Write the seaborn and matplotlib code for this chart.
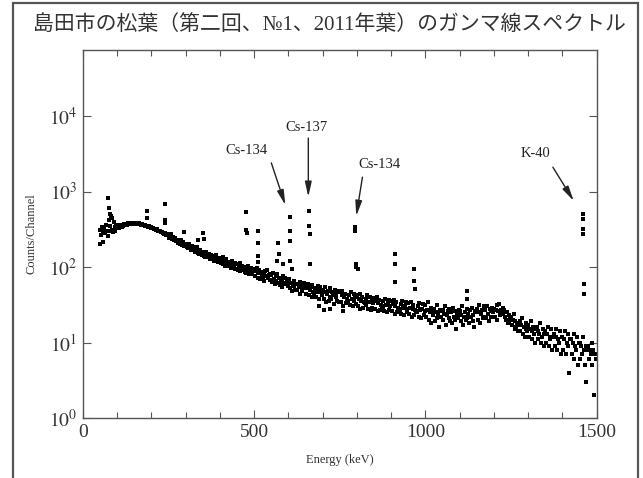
import numpy as np
import pandas as pd
import matplotlib
matplotlib.use('Agg')
import matplotlib.pyplot as plt
from matplotlib.ticker import MultipleLocator, LogLocator, NullLocator, FuncFormatter
from matplotlib.patches import Rectangle
import seaborn as sns

# spectrum, channel width 2.5 keV
counts_low = [  # 50 - 497.5 keV
    310, 265, 340, 290, 215, 330, 280, 360, 300, 255,
    420, 300, 350, 480, 310, 290, 390, 335, 300, 345,
    340, 360, 330, 355, 345, 365, 340, 350, 372, 355,
    365, 375, 360, 380, 372, 368, 385, 370, 378, 382,
    380, 372, 388, 375, 370, 382, 368, 376, 365, 372,
    362, 355, 358, 348, 352, 345, 340, 348, 335, 338,
    332, 325, 330, 318, 322, 312, 308, 315, 302, 298,
    296, 288, 290, 280, 284, 274, 278, 268, 272, 262,
    262, 244, 250, 270, 236, 248, 226, 245, 240, 222,
    228, 208, 220, 200, 216, 226, 198, 212, 190, 204,
    200, 182, 194, 176, 204, 180, 170, 188, 166, 182,
    176, 158, 170, 182, 154, 166, 150, 168, 160, 146,
    158, 140, 152, 136, 160, 144, 134, 150, 128, 146,
    144, 126, 138, 120, 134, 146, 122, 132, 116, 130,
    130, 112, 124, 136, 110, 120, 104, 126, 114, 108,
    118, 102, 112, 96, 120, 106, 100, 114, 94, 108,
    108, 92, 102, 112, 88, 98, 104, 90, 100, 86,
    98, 84, 92, 102, 80, 90, 96, 82, 88, 94,
]
counts_mid = [  # 500 - 997.5 keV
    92, 76, 88, 98, 72, 84, 90, 70, 86, 78,
    70, 84, 66, 88, 76, 92, 72, 78, 68, 82,
    78, 64, 84, 70, 60, 76, 66, 80, 62, 72,
    58, 70, 66, 54, 76, 62, 72, 60, 68, 56,
    64, 70, 52, 62, 48, 58, 66, 56, 50, 60,
    50, 60, 56, 44, 64, 54, 48, 58, 62, 52,
    56, 44, 52, 60, 42, 50, 54, 40, 58, 46,
    44, 52, 40, 50, 56, 46, 38, 54, 48, 42,
    50, 38, 46, 54, 34, 44, 48, 36, 52, 40,
    38, 46, 42, 32, 50, 40, 44, 36, 48, 34,
    46, 34, 42, 48, 30, 40, 44, 33, 38, 36,
    36, 42, 31, 46, 38, 30, 44, 35, 40, 32,
    42, 30, 38, 44, 28, 36, 40, 29, 34, 33,
    31, 38, 42, 28, 34, 40, 27, 36, 29, 33,
    39, 28, 35, 40, 26, 33, 37, 27, 31, 30,
    29, 35, 26, 38, 31, 25, 33, 37, 27, 30,
    36, 26, 32, 37, 24, 30, 34, 25, 29, 28,
    27, 32, 24, 35, 29, 23, 30, 34, 25, 28,
    33, 24, 29, 34, 22, 28, 31, 23, 27, 26,
    25, 30, 22, 33, 27, 21, 28, 32, 23, 26,
]
counts_high = [  # 1000 - 1497.5 keV
    31, 22, 27, 34, 20, 25, 29, 18, 26, 23,
    28, 19, 25, 31, 21, 24, 16, 27, 22, 26,
    27, 20, 24, 30, 17, 23, 26, 21, 28, 19,
    25, 18, 29, 22, 20, 26, 15, 24, 21, 27,
    26, 19, 23, 30, 17, 22, 25, 20, 28, 21,
    24, 18, 27, 22, 29, 19, 23, 16, 25, 26,
    28, 20, 25, 31, 18, 24, 27, 21, 30, 22,
    27, 21, 30, 24, 19, 28, 26, 22, 29, 25,
    28, 22, 27, 31, 20, 26, 32, 23, 27, 24,
    29, 24, 27, 22, 20, 25, 18, 23, 19, 21,
    22, 17, 20, 24, 15, 19, 16, 18, 14, 17,
    19, 14, 17, 21, 13, 16, 12, 18, 15, 14,
    17, 12, 15, 19, 11, 14, 16, 13, 10, 15,
    16, 11, 14, 13, 18, 10, 12, 15, 9, 13,
    14, 10, 13, 16, 9, 12, 11, 15, 8, 12,
    13, 9, 12, 15, 8, 11, 10, 14, 7, 12,
    12, 8, 11, 14, 7, 10, 13, 9, 4, 11,
    11, 7, 10, 13, 6, 9, 8, 12, 5, 10,
    10, 6, 9, 7, 12, 8, 5, 9, 3, 8,
    9, 6, 8, 7, 10, 5, 8, 2, 7, 6,
]

# photopeak channels and stray points standing off the continuum
peak_energy = [50, 73, 75, 78, 84, 186, 186, 239, 239, 241, 294, 336, 351, 352,
               477, 477, 478, 511, 511, 511, 512, 568, 570, 571, 583,
               604, 604, 605, 605, 609, 661, 661, 662, 662,
               690, 705, 720, 760,
               795, 795, 796, 797, 802, 910, 910, 911, 968, 968, 969,
               1120, 1120, 1460, 1460, 1461, 1461, 1462, 1462]
peak_counts = [200, 830, 600, 500, 450, 550, 450, 680, 420, 380, 290, 230, 280, 235,
               540, 310, 285, 300, 210, 140, 115, 120, 210, 150, 110,
               460, 300, 220, 120, 95, 550, 350, 270, 110,
               30, 27, 28, 26,
               340, 300, 110, 100, 95, 150, 110, 63, 95, 65, 51,
               48, 38, 500, 435, 318, 275, 59, 44]

# (label, label pos, arrow tail, arrow head) in keV / counts
labels = ['Cs-134', 'Cs-137', 'Cs-134', 'K-40']
label_pos = [(478, 3450), (652, 7100), (865, 2300), (1322, 3150)]
arrow_tail = [(550, 2390), (658, 5100), (816, 1550), (1372, 2100)]
arrow_head = [(591, 660), (658, 850), (798, 475), (1433, 750)]

title = '島田市の松葉（第二回、№1、2011年葉）のガンマ線スペクトル'

spectrum = pd.DataFrame({
    'energy': np.concatenate([np.arange(50, 500, 2.5), np.arange(500, 1000, 2.5),
                              np.arange(1000, 1500, 2.5), peak_energy]),
    'counts': counts_low + counts_mid + counts_high + peak_counts,
})

sns.set_style('ticks')
plt.rcParams['font.family'] = ['Liberation Serif', 'Noto Sans CJK JP']
plt.rcParams['mathtext.fontset'] = 'stix'

fig = plt.figure(figsize=(6.43, 4.78), dpi=100)
ax = fig.add_axes([0.129, 0.1255, 0.799, 0.77])

sns.scatterplot(data=spectrum, x='energy', y='counts', marker='s', s=5.5,
                color='black', linewidth=0, ax=ax)

ax.set_yscale('log')
ax.set_xlim(0, 1500)
ax.set_ylim(1, 7.5e4)
ax.xaxis.set_major_locator(MultipleLocator(500))
ax.xaxis.set_minor_locator(MultipleLocator(100))
ax.yaxis.set_major_locator(LogLocator(base=10, numticks=10))
ax.yaxis.set_minor_locator(NullLocator())
ax.yaxis.set_major_formatter(FuncFormatter(lambda v, p: r'$10^{%d}$' % round(np.log10(v))))
ax.tick_params(which='both', direction='in', top=True, right=True, color='#555555',
               labelsize=14, labelcolor='#333333', pad=4)
ax.tick_params(which='major', length=6, width=0.8)
ax.tick_params(which='minor', length=4, width=0.8)
for sp in ax.spines.values():
    sp.set_color('#555555')
    sp.set_linewidth(1.0)

ax.set_xlabel('Energy (keV)', fontsize=9, color='#333333', labelpad=10)
ax.set_ylabel('Counts/Channel', fontsize=9, color='#333333', labelpad=8)

for lab, pos, tail, head in zip(labels, label_pos, arrow_tail, arrow_head):
    ax.text(pos[0], pos[1], lab, ha='center', va='center', fontsize=10.5, color='#222222')
    ax.annotate('', xy=head, xytext=tail,
                arrowprops=dict(arrowstyle='-|>,head_length=0.9,head_width=0.2',
                                color='#222222', lw=1.0, shrinkA=0, shrinkB=0))

fig.text(0.512, 0.947, title, ha='center', va='center', fontsize=15, color='#333333')

# outer frame
fig.patches.append(Rectangle((0.020, -0.05), 0.972, 1.044, transform=fig.transFigure,
                             fill=False, edgecolor='#555555', linewidth=1.6))

fig.savefig('out.png', dpi=100)
